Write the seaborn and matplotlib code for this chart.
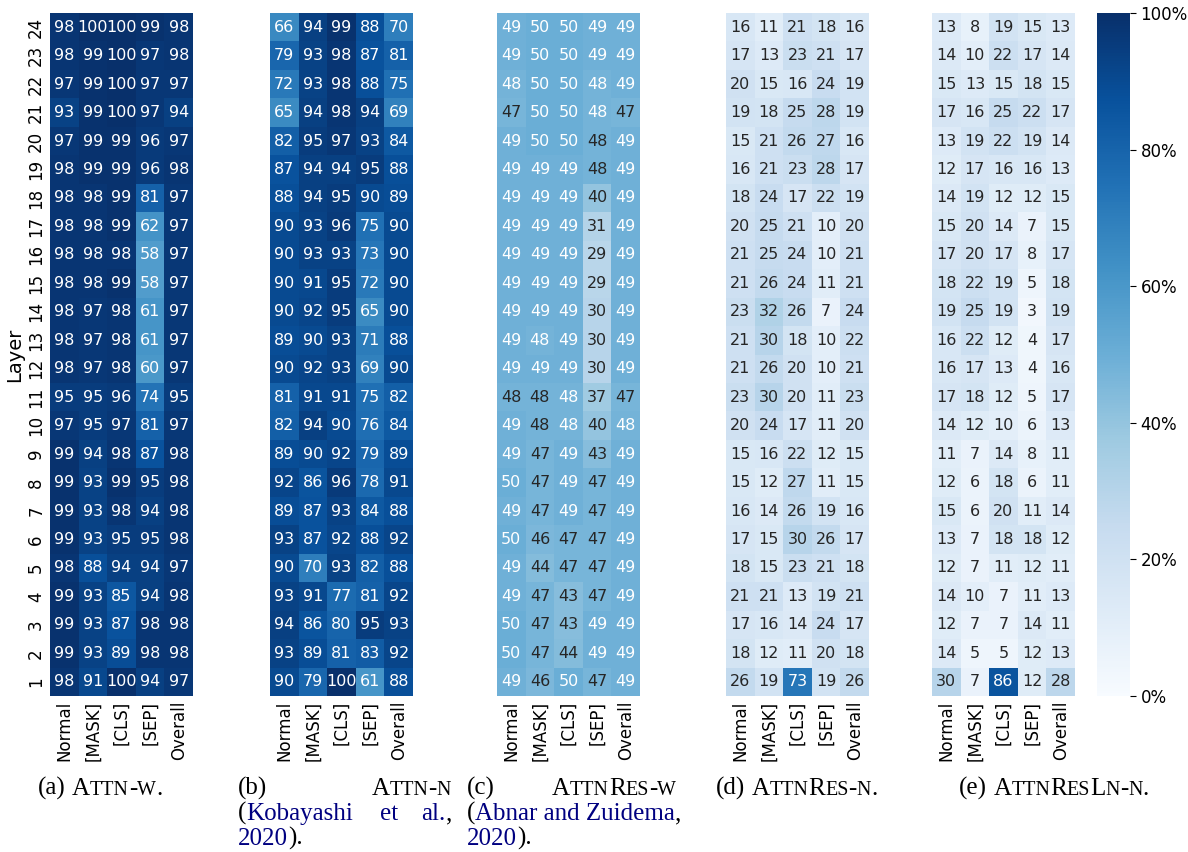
"""
Token-type attention heatmaps per layer (five norm variants)
"""
import numpy as np
import pandas as pd
import matplotlib
matplotlib.use('Agg')
import matplotlib.pyplot as plt
from matplotlib.ticker import PercentFormatter
import seaborn as sns

plt.rcParams['font.family'] = 'DejaVu Sans'

W, H = 1188, 852

COLS = ['Normal', '[MASK]', '[CLS]', '[SEP]', 'Overall']
LAYERS = list(range(24, 0, -1))   # top row = layer 24

# rows: layer 24 ... layer 1
ATTN_W = [
    [98, 100, 100, 99, 98], [98, 99, 100, 97, 98], [97, 99, 100, 97, 97],
    [93, 99, 100, 97, 94], [97, 99, 99, 96, 97], [98, 99, 99, 96, 98],
    [98, 98, 99, 81, 97], [98, 98, 99, 62, 97], [98, 98, 98, 58, 97],
    [98, 98, 99, 58, 97], [98, 97, 98, 61, 97], [98, 97, 98, 61, 97],
    [98, 97, 98, 60, 97], [95, 95, 96, 74, 95], [97, 95, 97, 81, 97],
    [99, 94, 98, 87, 98], [99, 93, 99, 95, 98], [99, 93, 98, 94, 98],
    [99, 93, 95, 95, 98], [98, 88, 94, 94, 97], [99, 93, 85, 94, 98],
    [99, 93, 87, 98, 98], [99, 93, 89, 98, 98], [98, 91, 100, 94, 97],
]
ATTN_N = [
    [66, 94, 99, 88, 70], [79, 93, 98, 87, 81], [72, 93, 98, 88, 75],
    [65, 94, 98, 94, 69], [82, 95, 97, 93, 84], [87, 94, 94, 95, 88],
    [88, 94, 95, 90, 89], [90, 93, 96, 75, 90], [90, 93, 93, 73, 90],
    [90, 91, 95, 72, 90], [90, 92, 95, 65, 90], [89, 90, 93, 71, 88],
    [90, 92, 93, 69, 90], [81, 91, 91, 75, 82], [82, 94, 90, 76, 84],
    [89, 90, 92, 79, 89], [92, 86, 96, 78, 91], [89, 87, 93, 84, 88],
    [93, 87, 92, 88, 92], [90, 70, 93, 82, 88], [93, 91, 77, 81, 92],
    [94, 86, 80, 95, 93], [93, 89, 81, 83, 92], [90, 79, 100, 61, 88],
]
ATTNRES_W = [
    [49, 50, 50, 49, 49], [49, 50, 50, 49, 49], [48, 50, 50, 48, 49],
    [47, 50, 50, 48, 47], [49, 50, 50, 48, 49], [49, 49, 49, 48, 49],
    [49, 49, 49, 40, 49], [49, 49, 49, 31, 49], [49, 49, 49, 29, 49],
    [49, 49, 49, 29, 49], [49, 49, 49, 30, 49], [49, 48, 49, 30, 49],
    [49, 49, 49, 30, 49], [48, 48, 48, 37, 47], [49, 48, 48, 40, 48],
    [49, 47, 49, 43, 49], [50, 47, 49, 47, 49], [49, 47, 49, 47, 49],
    [50, 46, 47, 47, 49], [49, 44, 47, 47, 49], [49, 47, 43, 47, 49],
    [50, 47, 43, 49, 49], [50, 47, 44, 49, 49], [49, 46, 50, 47, 49],
]
# "48" cells of (c) printed in white in the original (value just above 48)
ATTNRES_W_LIGHT = [(22, 'Normal'), (22, '[SEP]'), (21, '[SEP]'), (13, '[MASK]'),
                   (11, '[CLS]'), (10, '[CLS]'), (10, 'Overall')]
ATTNRES_N = [
    [16, 11, 21, 18, 16], [17, 13, 23, 21, 17], [20, 15, 16, 24, 19],
    [19, 18, 25, 28, 19], [15, 21, 26, 27, 16], [16, 21, 23, 28, 17],
    [18, 24, 17, 22, 19], [20, 25, 21, 10, 20], [21, 25, 24, 10, 21],
    [21, 26, 24, 11, 21], [23, 32, 26, 7, 24], [21, 30, 18, 10, 22],
    [21, 26, 20, 10, 21], [23, 30, 20, 11, 23], [20, 24, 17, 11, 20],
    [15, 16, 22, 12, 15], [15, 12, 27, 11, 15], [16, 14, 26, 19, 16],
    [17, 15, 30, 26, 17], [18, 15, 23, 21, 18], [21, 21, 13, 19, 21],
    [17, 16, 14, 24, 17], [18, 12, 11, 20, 18], [26, 19, 73, 19, 26],
]
ATTNRESLN_N = [
    [13, 8, 19, 15, 13], [14, 10, 22, 17, 14], [15, 13, 15, 18, 15],
    [17, 16, 25, 22, 17], [13, 19, 22, 19, 14], [12, 17, 16, 16, 13],
    [14, 19, 12, 12, 15], [15, 20, 14, 7, 15], [17, 20, 17, 8, 17],
    [18, 22, 19, 5, 18], [19, 25, 19, 3, 19], [16, 22, 12, 4, 17],
    [16, 17, 13, 4, 16], [17, 18, 12, 5, 17], [14, 12, 10, 6, 13],
    [11, 7, 14, 8, 11], [12, 6, 18, 6, 11], [15, 6, 20, 11, 14],
    [13, 7, 18, 18, 12], [12, 7, 11, 12, 11], [14, 10, 7, 11, 13],
    [12, 7, 7, 14, 11], [14, 5, 5, 12, 13], [30, 7, 86, 12, 28],
]
PANELS = [ATTN_W, ATTN_N, ATTNRES_W, ATTNRES_N, ATTNRESLN_N]

# pixel geometry
AX_LEFT = [50, 270, 497, 726, 932]
AX_W = 143
AX_TOP, AX_BOT = 13, 696
CB_LEFT, CB_W = 1097, 33

NAVY = '#000080'
SERIF = 'Liberation Serif'
CAP_SIZE = 18


def fx(px): return px / W
def fy(py): return 1 - py / H


def sc_runs(word, size, color='black'):
    """small caps: lowercase letters -> reduced uppercase"""
    runs = []
    for ch in word:
        s = size * 0.8 if ch.islower() else size
        if runs and runs[-1][1] == s:
            runs[-1] = (runs[-1][0] + ch.upper(), s, color)
        else:
            runs.append((ch.upper(), s, color))
    return runs


def draw_runs(fig, x, y, runs, ha='left'):
    r = fig.canvas.get_renderer()
    placed, cx = [], x
    for s, size, col in runs:
        if s == ' ':
            cx += size * 0.25 * 100 / 72
            continue
        t = fig.text(fx(cx), fy(y), s, fontsize=size, color=col,
                     family=SERIF, va='baseline', ha='left')
        w = t.get_window_extent(renderer=r).width
        placed.append((t, cx))
        cx += w
    if ha == 'right':
        shift = x - cx
        for t, px in placed:
            t.set_x(fx(px + shift))
    return cx


def txt(s, col='black'):
    return [(s, CAP_SIZE, col)]

SP = [(' ', CAP_SIZE, 'black')]


fig = plt.figure(figsize=(W / 100, H / 100), dpi=100)
cax = fig.add_axes([fx(CB_LEFT), fy(AX_BOT), CB_W / W, (AX_BOT - AX_TOP) / H])

for i, vals in enumerate(PANELS):
    ax = fig.add_axes([fx(AX_LEFT[i]), fy(AX_BOT), AX_W / W, (AX_BOT - AX_TOP) / H])
    df = pd.DataFrame(vals, index=LAYERS, columns=COLS)
    last = i == len(PANELS) - 1
    sns.heatmap(df, ax=ax, cmap='Blues', vmin=0, vmax=100, annot=True, fmt='d',
                annot_kws={'size': 11.5}, cbar=last, cbar_ax=cax if last else None,
                cbar_kws={'ticks': [0, 20, 40, 60, 80, 100],
                          'format': PercentFormatter(100, decimals=0)})
    ax.tick_params(length=0, labelsize=12)
    ax.set_xticklabels(COLS, rotation=90)
    if i == 0:
        ax.set_yticklabels([str(l) for l in LAYERS], rotation=90, va='center')
        ax.set_ylabel('Layer', fontsize=14, labelpad=2)
    else:
        ax.set_yticks([])
        ax.set_ylabel('')
    if vals is ATTNRES_W:
        # annotation texts are laid out row by row
        for layer, col in ATTNRES_W_LIGHT:
            k = LAYERS.index(layer) * len(COLS) + COLS.index(col)
            ax.texts[k].set_color('w')

cax.tick_params(labelsize=12, length=4)

# captions
draw_runs(fig, 38, 795, txt('(a)') + SP + sc_runs('Attn-w', CAP_SIZE) + txt('.'))

draw_runs(fig, 238, 795, txt('(b)'))
draw_runs(fig, 451, 795, sc_runs('Attn-n', CAP_SIZE), ha='right')
draw_runs(fig, 238, 820, txt('(') + txt('Kobayashi', NAVY))
fig.text(fx(389), fy(820), 'et', fontsize=CAP_SIZE, color=NAVY, family=SERIF,
         ha='center', va='baseline')
draw_runs(fig, 452, 820, txt('al.', NAVY) + txt(','), ha='right')
draw_runs(fig, 238, 845, txt('2020', NAVY) + txt(').'))

draw_runs(fig, 467, 795, txt('(c)'))
draw_runs(fig, 676, 795, sc_runs('AttnRes-w', CAP_SIZE), ha='right')
draw_runs(fig, 467, 820, txt('(') + txt('Abnar and Zuidema', NAVY) + txt(','))
draw_runs(fig, 467, 845, txt('2020', NAVY) + txt(').'))

draw_runs(fig, 716, 795, txt('(d)') + SP + sc_runs('AttnRes-n', CAP_SIZE) + txt('.'))
draw_runs(fig, 959, 795, txt('(e)') + SP + sc_runs('AttnResLn-n', CAP_SIZE) + txt('.'))

plt.savefig('out.png', dpi=100, facecolor='white')
plt.close()
